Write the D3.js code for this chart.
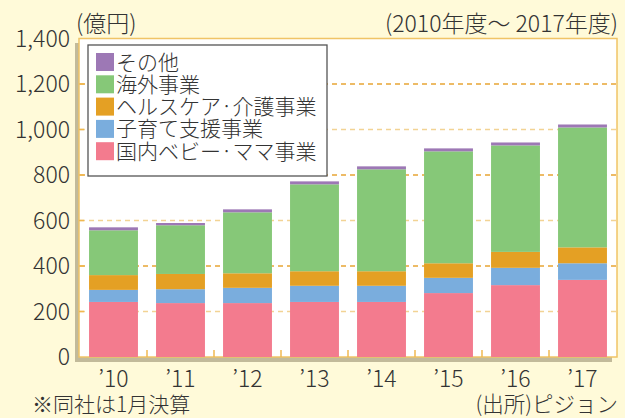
<!DOCTYPE html>
<html><head><meta charset="utf-8">
<script src="https://cdn.jsdelivr.net/npm/d3@7"></script>
<style>
html,body{margin:0;padding:0;background:#fffad9;}
svg{display:block;}
text{font-family:"Noto Sans CJK JP","Noto Sans",sans-serif;fill:#333;font-weight:300;}
</style></head>
<body>
<svg id="c" width="625" height="418"></svg>
<script>
const years = ["’10","’11","’12","’13","’14","’15","’16","’17"];
const domestic = [242, 237, 237, 242, 242, 281, 316, 339];
const childcare = [53, 61, 67, 71, 71, 67, 76, 73];
const healthcare = [65, 67, 64, 64, 64, 64, 70, 70];
const overseas = [197, 214, 268, 382, 448, 492, 468, 527];
const other = [13, 10, 13, 13, 13, 13, 13, 13];
const seriesNames = ["国内ベビー·ママ事業","子育て支援事業","ヘルスケア·介護事業","海外事業","その他"];
const seriesColors = ["#f37b8e","#7aaddd","#e4a024","#86c878","#9d78b5"];
const yTicks = [0,200,400,600,800,1000,1200,1400];

const svg = d3.select("#c");
const x = d3.scaleBand().domain(years).range([80,616]).paddingInner(0.27).paddingOuter(0.135);
const y = d3.scaleLinear().domain([0,1400]).range([357,38.5]);

// shadow
svg.append("rect").attr("x",75).attr("y",43).attr("width",537).attr("height",319).attr("fill","#c2ba9a");
// plot box
svg.append("rect").attr("x",79).attr("y",38.5).attr("width",538).attr("height",318.5)
  .attr("fill","#fff").attr("stroke","#f0c466").attr("stroke-width",1.5);

// grid
yTicks.filter(d=>d>0 && d<1400).forEach(d=>{
  const dark = (d/200)%2===0;
  svg.append("line").attr("x1",80).attr("x2",616).attr("y1",y(d)).attr("y2",y(d))
    .attr("stroke", dark ? "#e8a535" : "#f2d394").attr("stroke-width",1.6)
    .attr("stroke-dasharray","5,4");
  svg.append("line").attr("x1",79).attr("x2",84).attr("y1",y(d)).attr("y2",y(d))
    .attr("stroke","#f0b850").attr("stroke-width",1.5);
});

// stacked data
const rows = years.map((yr,i)=>({year:yr, s0:domestic[i], s1:childcare[i], s2:healthcare[i], s3:overseas[i], s4:other[i]}));
const stack = d3.stack().keys(["s0","s1","s2","s3","s4"])(rows);
stack.forEach((layer,k)=>{
  svg.append("g").selectAll("rect").data(layer).join("rect")
    .attr("x",d=>x(d.data.year)).attr("width",x.bandwidth())
    .attr("y",d=>y(d[1])).attr("height",d=>y(d[0])-y(d[1]))
    .attr("fill",seriesColors[k]);
});

// bottom separators
years.slice(1).forEach((yr)=>{
  const xs = x(yr) - x.step()*x.paddingInner()/2;
  svg.append("line").attr("x1",xs).attr("x2",xs).attr("y1",350).attr("y2",357)
    .attr("stroke","#f0b850").attr("stroke-width",1.5);
});

// y labels
svg.append("g").selectAll("text").data(yTicks).join("text")
  .attr("x",70).attr("y",d=>y(d)).attr("dy","0.36em").attr("text-anchor","end")
  .attr("font-size",23).text(d3.format(","));

// x labels
svg.append("g").selectAll("text").data(years).join("text")
  .attr("x",d=>x(d)+x.bandwidth()/2).attr("y",387).attr("text-anchor","middle")
  .attr("font-size",23).text(d=>d);

// legend
const lg = svg.append("g");
lg.append("rect").attr("x",88).attr("y",45).attr("width",239).attr("height",131)
  .attr("fill","#fff").attr("stroke","#555").attr("stroke-width",1.3);
const legendOrder = [4,3,2,1,0];
legendOrder.forEach((k,i)=>{
  const cy = 62 + i*22.3;
  lg.append("rect").attr("x",96).attr("y",cy-9).attr("width",18).attr("height",18).attr("fill",seriesColors[k]);
  lg.append("text").attr("x",116).attr("y",cy).attr("dy","0.36em").attr("font-size",21).text(seriesNames[k]);
});

// titles & notes
svg.append("text").attr("x",76).attr("y",32).attr("font-size",23).text("(億円)");
svg.append("text").attr("x",618).attr("y",32).attr("text-anchor","end").attr("font-size",23).text("(2010年度～ 2017年度)");
svg.append("text").attr("x",32).attr("y",411.5).attr("font-size",21).text("※同社は1月決算");
svg.append("text").attr("x",618).attr("y",411.5).attr("text-anchor","end").attr("font-size",21.5).text("(出所)ピジョン");
</script>
</body></html>
